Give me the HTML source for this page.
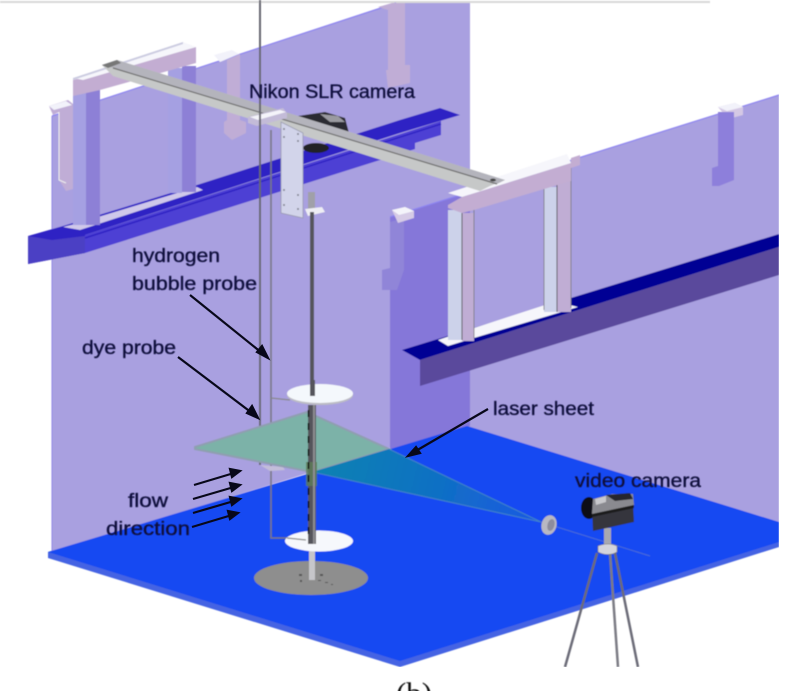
<!DOCTYPE html>
<html><head><meta charset="utf-8"><style>
html,body{margin:0;padding:0;background:#fff}
svg{display:block}
text{font-family:"Liberation Sans",sans-serif;font-size:19px;fill:#10103c;stroke:#10103c;stroke-width:.35px}
</style></head><body>
<svg width="800" height="691" viewBox="0 0 800 691" xmlns="http://www.w3.org/2000/svg">
<defs>
<filter id="b" x="0" y="0" width="100%" height="100%"><feGaussianBlur stdDeviation="0.55"/></filter>
<linearGradient id="g" gradientUnits="userSpaceOnUse" x1="330" y1="470" x2="541" y2="522"><stop offset="0" stop-color="#0d80b4"/><stop offset=".5" stop-color="#1070c4"/><stop offset="1" stop-color="#1a58e4"/></linearGradient>
</defs>
<rect width="800" height="691" fill="#fff"/>
<g filter="url(#b)">
<rect x="0" y="1" width="710" height="2" fill="#d8d8d8"/>
<!-- walls -->
<polygon points="52,116 396,3 470,3 470,424 467,424 52,552" fill="#a9a0e0"/>
<polygon points="779,95 390,217 390,450 467,427 779,522" fill="#a9a0e0"/>
<polygon points="390,217 470,192 470,426 390,450" fill="#8577d9"/>
<polyline points="52,116 396,3" fill="none" stroke="#8d84f0" stroke-width="1.2"/>
<polyline points="390,217 779,95" fill="none" stroke="#8d84f0" stroke-width="1.2"/>
<line x1="52" y1="116" x2="52" y2="552" stroke="#9288e6" stroke-width="1"/>
<!-- floor -->
<polygon points="48,558 48,552 467,426 779,522 779,547 400,667" fill="#4563e3"/>
<polygon points="48,552 467,426 779,522 779,542 400,661" fill="#1648f2"/>
<!-- left rail -->
<polygon points="28,236 63,226 197,185 400,120 440,108 460,115 400,133 85,235 85,253 28,264" fill="#2f22c4"/>
<polygon points="28,236 52,240 85,236 85,253 28,264" fill="#4b40c4"/>
<polygon points="85,235 441,121 441,135 415,143 415,149 85,253" fill="#4d40d4"/>
<line x1="85" y1="238" x2="441" y2="124" stroke="#2f22c4" stroke-width="1.5"/>
<!-- right rail -->
<polygon points="402,350 779,234 779,247 420,360" fill="#000094"/>
<polygon points="420,360 779,247 779,275 420,386" fill="#5a4a9c"/>
<!-- brackets -->
<polygon points="49,106 68,100 73,104 73,170 80,168 80,187 66,191 59,180 59,112 53,115" fill="#c0add6"/>
<polygon points="49,106 66,101 72,105 54,110" fill="#f2f2fa"/>
<polyline points="59,112 59,180 66,183" fill="none" stroke="#eee" stroke-width="1"/>
<polygon points="227,60 240,54 240,120 246,122 246,133 232,140 224,133 224,122 227,120" fill="#c0add6"/>
<polygon points="214,55 232,50 239,54 220,62" fill="#f2f2fa"/>
<polygon points="378,7 392,3 405,3 405,65 410,65 410,83 388,88 386,70 388,70 388,10" fill="#c0add6"/>
<polygon points="718,107 735,103 743,107 743,115 728,119" fill="#d4c8e4"/>
<polygon points="718,107 735,103 743,107 727,111" fill="#f2f2fa"/>
<polygon points="718,112 734,112 734,180 719,186 712,186 712,168 718,166" fill="#8d7fdb"/>
<polygon points="390,222 404,218 404,270 397,290 382,290 382,270 390,268" fill="#9085d8"/>
<polygon points="392,210 405,207 414,211 414,218 398,223" fill="#d6cbe6"/>
<polygon points="392,210 405,207 414,211 399,215" fill="#f4f4fa"/>
<!-- left frame -->
<polygon points="63,227 75,224 197,187 203,190 80,230" fill="#cfc8ea"/>
<rect x="73" y="90" width="13" height="135" fill="#a5a0e2"/>
<rect x="86" y="90" width="14" height="135" fill="#8d80d6"/>
<rect x="168" y="68" width="14" height="125" fill="#a5a0e2"/>
<rect x="182" y="66" width="14" height="126" fill="#8d80d6"/>
<polygon points="73,80 196,47 196,63 100,90 73,96" fill="#c3add2"/>
<polygon points="73,78 183,42 196,47 83,80" fill="#f6f6fb"/>
<polygon points="73,78 183,42 183,44 73,80" fill="#cbcbe0"/>
<!-- camera behind beam -->
<polygon points="298,116 325,112 345,118 349,133 330,140 305,130" fill="#2a2a30"/>
<polygon points="320,114 338,116 345,122 330,122" fill="#9a9aa0"/>
<ellipse cx="316" cy="148" rx="13" ry="5" fill="#222228"/>
<!-- right frame -->
<polygon points="438,340 474,328 545,305 570,305 578,307 474,338 448,346" fill="#f6f6fb"/>
<rect x="448" y="210" width="14" height="130" fill="#ccd2ea"/>
<rect x="462" y="213" width="12" height="128" fill="#c0add4"/>
<rect x="544" y="187" width="13" height="125" fill="#ccd2ea"/>
<rect x="557" y="180" width="14" height="132" fill="#c0add4"/>
<line x1="462" y1="213" x2="462" y2="340" stroke="#555" stroke-width="1"/>
<line x1="557" y1="182" x2="557" y2="312" stroke="#555" stroke-width="1"/>
<line x1="474" y1="210" x2="474" y2="338" stroke="#777" stroke-width="0.8"/>
<line x1="544" y1="187" x2="544" y2="310" stroke="#777" stroke-width="0.8"/>
<line x1="571" y1="165" x2="571" y2="308" stroke="#777" stroke-width="0.8"/>
<polygon points="448,205 462,197 571,163 571,181 474,210 462,213 448,208" fill="#c3add2"/>
<polygon points="448,193 567,154 571,163 462,197" fill="#f6f6fb"/>
<polygon points="571,158 580,155 580,165 571,168" fill="#c3add2"/>
<!-- cross beam -->
<polygon points="102,65 117,60 505,180 490,186 480,191 113,76" fill="#c6c8c8"/>
<polygon points="102,65 117,60 505,180 497,184 113,68" fill="#b4b4bc"/>
<line x1="113" y1="68" x2="497" y2="184" stroke="#6e6e6e" stroke-width="1.2"/>
<polygon points="102,65 117,60 121,63 108,68" fill="#777"/>
<ellipse cx="493" cy="180" rx="3" ry="1.5" fill="#444"/>
<!-- bracket plate -->
<polygon points="281,122 303,133 303,218 281,213" fill="#d2d4ea"/>
<polygon points="281,122 303,133 303,218 281,213" fill="none" stroke="#9a9ab0" stroke-width=".8"/>
<g fill="#80808c"><circle cx="284" cy="129" r="1"/><circle cx="298" cy="134" r="1"/><circle cx="284" cy="137" r="1"/><circle cx="298" cy="141" r="1"/><circle cx="284" cy="190" r="1"/><circle cx="298" cy="195" r="1"/><circle cx="284" cy="205" r="1"/><circle cx="298" cy="209" r="1"/></g>
<rect x="308" y="192" width="7" height="18" fill="#a0a0a8"/>
<polygon points="305,209 322,207 325,212 308,216" fill="#eeeef4"/>
<!-- clamp -->
<polygon points="248,117 283,108 287,113 287,118 257,126 248,123" fill="#c3bbd8"/>
<polygon points="250,117 280,110 286,112 258,120" fill="#f4f4fa"/>
<!-- pole upper -->
<rect x="310" y="212" width="4" height="185" fill="#55555c"/>
<!-- probes -->
<line x1="260" y1="0" x2="260" y2="465" stroke="#666670" stroke-width="2"/>
<polyline points="271,130 271,538 287,538 300,541" fill="none" stroke="#777782" stroke-width="1.6"/>
<line x1="271" y1="398" x2="290" y2="400" stroke="#888" stroke-width="1.2"/>
<polygon points="260,465 283,467 285,470 270,471" fill="#c3bdd9"/>
<!-- disc 1 -->
<ellipse cx="320" cy="395" rx="33" ry="10" fill="#bcbcc4"/>
<ellipse cx="320" cy="393.5" rx="33" ry="9.5" fill="#f4f8fc"/>
<rect x="310" y="380" width="5" height="16" fill="#55555c"/>
<!-- lower disc & base -->
<ellipse cx="311" cy="578" rx="57" ry="17" fill="#8e8e8e"/>
<g fill="#555"><rect x="299" y="574" width="3" height="2"/><rect x="320" y="574" width="3" height="2"/><rect x="300" y="580" width="2" height="2"/><rect x="318" y="580" width="3" height="1"/><rect x="325" y="582" width="3" height="1"/><rect x="331" y="584" width="2" height="1"/></g>
<rect x="309" y="550" width="6" height="30" fill="#c6c6ca"/>
<ellipse cx="319" cy="541" rx="34" ry="10.5" fill="#f6f8fc"/>
<line x1="287" y1="538" x2="306" y2="540" stroke="#888" stroke-width="1.2"/>
<!-- sheet -->
<polygon points="195,447 307,412 389,449 312,472 195,449" fill="#7cb2a8" stroke="#8f9fb0" stroke-width="2"/>
<polygon points="389,449 541,522 312,472" fill="url(#g)"/>
<polyline points="389,449 541,522 312,472" fill="none" stroke="#3f80c8" stroke-width="1.1"/>
<!-- pole lower -->
<rect x="308" y="405" width="8" height="139" fill="#55555c"/>
<rect x="306" y="462" width="11" height="24" fill="#5c7d58" opacity=".8"/>
<line x1="308.5" y1="410" x2="308.5" y2="540" stroke="#111" stroke-width="1.6" stroke-dasharray="7 6"/>
<rect x="313" y="405" width="2" height="139" fill="#8e8e92"/>
<!-- laser -->
<line x1="541" y1="522" x2="650" y2="556" stroke="#4a6cd4" stroke-width="1"/>
<ellipse cx="549" cy="525" rx="7.5" ry="10" transform="rotate(15 549 525)" fill="#b8b8c2"/>
<ellipse cx="551" cy="525" rx="3.5" ry="6" transform="rotate(15 551 525)" fill="#8c8c9c"/>
<!-- tripod -->
<line x1="597" y1="553" x2="565" y2="667" stroke="#6c6c78" stroke-width="2.5"/>
<line x1="610" y1="553" x2="618" y2="667" stroke="#7c7c84" stroke-width="2.5"/>
<line x1="615" y1="553" x2="638" y2="667" stroke="#6c6c78" stroke-width="2.5"/>
<rect x="604" y="528" width="7" height="18" fill="#a8a8b0"/>
<path d="M598 546q10-4 19 0v6q-9 5-19 0z" fill="#d4d4dc" stroke="#777" stroke-width=".6"/>
<!-- camera -->
<ellipse cx="589" cy="508" rx="8" ry="11" fill="#0e0e12"/>
<polygon points="592,510 633,503 634,522 593,531" fill="#35353c"/>
<polygon points="593,499 612,494 633,494 634,505 592,514" fill="#8a8a90"/>
<polygon points="606,495 630,493 633,499 615,501" fill="#28282e"/>
<polygon points="595,499 606,496 606,502 596,505" fill="#c8c8cc"/>
<polygon points="592,514 634,505 634,508 592,517" fill="#1a1a1e"/>
</g>
<!-- arrows -->
<g stroke="#08081a" stroke-width="2.2" fill="#08081a">
<line x1="190" y1="295" x2="262" y2="353"/><polygon points="268,358 257,352 262,346"/>
<line x1="178" y1="357" x2="252" y2="413"/><polygon points="258,418 247,413 252,406"/>
<line x1="488" y1="409" x2="414" y2="452"/><polygon points="408,456 416,447 420,453"/>
<line x1="194" y1="485" x2="234" y2="473"/><polygon points="240,471 230,469 232,477"/>
<line x1="193" y1="499" x2="234" y2="487"/><polygon points="240,485 230,483 232,491"/>
<line x1="193" y1="513" x2="234" y2="501"/><polygon points="240,499 230,497 232,505"/>
<line x1="192" y1="527" x2="232" y2="515"/><polygon points="238,513 228,511 230,519"/>
</g>
<!-- labels -->
<g filter="url(#b)">
<text x="249" y="98" textLength="166" lengthAdjust="spacingAndGlyphs">Nikon SLR camera</text>
<text x="132" y="262" textLength="88" lengthAdjust="spacingAndGlyphs">hydrogen</text>
<text x="132" y="290" textLength="125" lengthAdjust="spacingAndGlyphs">bubble probe</text>
<text x="82" y="354" textLength="94" lengthAdjust="spacingAndGlyphs">dye probe</text>
<text x="128" y="507" textLength="40" lengthAdjust="spacingAndGlyphs">flow</text>
<text x="106" y="535" textLength="84" lengthAdjust="spacingAndGlyphs">direction</text>
<text x="493" y="415" textLength="101" lengthAdjust="spacingAndGlyphs">laser sheet</text>
<text x="575" y="487" textLength="126" lengthAdjust="spacingAndGlyphs">video camera</text>
<text x="396" y="703" textLength="36" lengthAdjust="spacingAndGlyphs" style="font-family:'Liberation Serif',serif;font-size:30px;fill:#111;stroke:none">(b)</text>
</g>
</svg>
</body></html>
